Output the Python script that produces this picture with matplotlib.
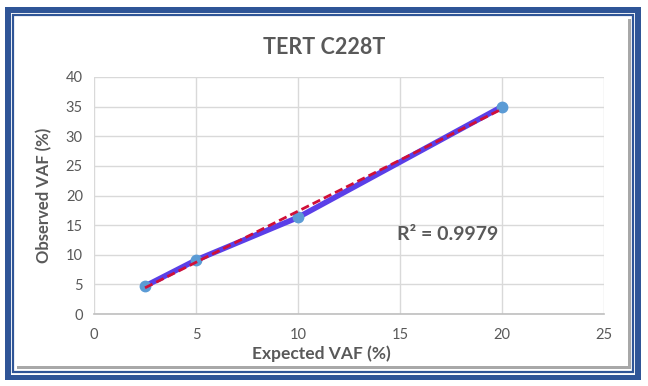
import matplotlib
matplotlib.use("Agg")
import matplotlib.pyplot as plt
from matplotlib.patches import Rectangle
import numpy as np

expected = [2.5, 5, 10, 20]
observed = [4.7, 9.1, 16.3, 35.0]
x_ticks = [0, 5, 10, 15, 20, 25]
y_ticks = [0, 5, 10, 15, 20, 25, 30, 35, 40]
title = "TERT C228T"
xlabel = "Expected VAF (%)"
ylabel = "Observed VAF (%)"
r2_text = "R² = 0.9979"

plt.rcParams['font.family'] = ['Lato', 'DejaVu Sans']
W, H = 648, 386
fig = plt.figure(figsize=(W / 100, H / 100), dpi=100)
fig.patch.set_facecolor('white')

def rect(x0, y0, x1, y1, z, **kw):
    r = Rectangle((x0 / W, 1 - y1 / H), (x1 - x0) / W, (y1 - y0) / H,
                  transform=fig.transFigure, zorder=z, **kw)
    fig.patches.append(r)

blue = '#2F5597'
rect(5, 7, 641, 380, -10, facecolor=blue, edgecolor='none')
rect(11, 13, 635, 375, -9, facecolor='white', edgecolor='none')
rect(13, 15, 633, 372, -8, facecolor='white', edgecolor=blue, linewidth=1.6)
rect(17, 19, 631, 369, -7, facecolor='#A8A8A8', edgecolor='none')
rect(16, 18, 628, 366, -6, facecolor='white', edgecolor='none')

ax = fig.add_axes([94 / W, 1 - 314 / H, (604 - 94) / W, (314 - 77) / H])
ax.set_zorder(1)
ax.set_facecolor('none')
ax.set_xlim(0, 25)
ax.set_ylim(0, 40)
ax.set_xticks(x_ticks)
ax.set_yticks(y_ticks)
ax.grid(True, color='#D9D9D9', linewidth=1.0)
ax.set_axisbelow(True)
for s in ['top', 'right', 'left']:
    ax.spines[s].set_visible(False)
ax.spines['bottom'].set_color('#BFBFBF')
ax.spines['bottom'].set_linewidth(1.2)
ax.tick_params(length=0, colors='#595959', labelsize=10.5, pad=8)
ax.tick_params(axis='x', pad=10)

ax.plot(expected, observed, color='#5A3FE8', linewidth=4.0,
        marker='o', markersize=7.5, markerfacecolor='#5B9BD5',
        markeredgecolor='#5B9BD5', zorder=3, solid_capstyle='round')
coef = np.polyfit(expected, observed, 1)
xs = np.array([min(expected), max(expected)])
ax.plot(xs, np.polyval(coef, xs), color='#D01038', linewidth=2.0,
        linestyle=(0, (3, 1.5)), zorder=4)

ax.text(14.85, 13.4, r2_text, color='#595959', fontsize=14, fontweight='bold',
        va='center', ha='left')

ax.set_xlabel(xlabel, color='#595959', fontsize=12.5, fontweight='bold')
ax.xaxis.set_label_coords((321 - 94) / 510, -(345 - 314) / 237)
ax.set_ylabel(ylabel, color='#595959', fontsize=12, fontweight='bold', labelpad=10)
fig.text(324 / W, 1 - 47 / H, title, color='#595959', fontsize=15.5,
         fontweight='bold', ha='center', va='center')

fig.savefig('out.png', dpi=100)
